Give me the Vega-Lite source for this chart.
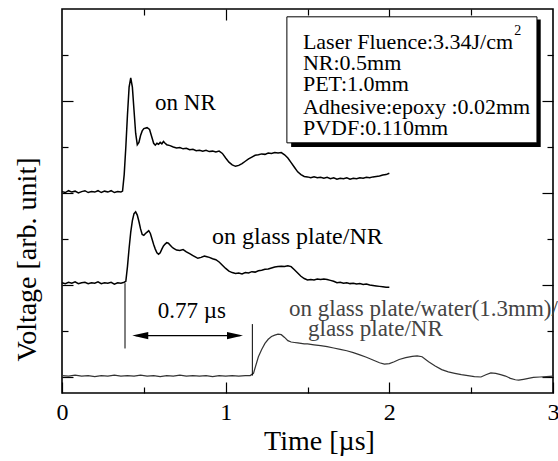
{
  "$schema": "https://vega.github.io/schema/vega-lite/v6.json",
  "autosize": {"type": "none"},
  "width": 491,
  "height": 384,
  "padding": {"left": 62, "top": 9, "right": 5, "bottom": 68},
  "config": {
    "view": {"stroke": "black", "strokeWidth": 1.6},
    "font": "Liberation Serif",
    "axis": {"domain": false, "grid": false, "tickColor": "black", "tickWidth": 1.2, "labelColor": "black", "titleColor": "black", "labelFont": "Liberation Serif", "titleFont": "Liberation Serif", "titleFontWeight": "normal"}
  },
  "datasets": {
    "nr": [
      {"t":0,"v":4.03},{"t":0.02,"v":4.01},{"t":0.04,"v":4.05},{"t":0.06,"v":4.02},{"t":0.08,"v":4.04},{"t":0.10,"v":4.00},{"t":0.12,"v":4.03},{"t":0.14,"v":4.05},{"t":0.16,"v":4.01},{"t":0.18,"v":4.03},{"t":0.20,"v":4.02},{"t":0.22,"v":4.05},{"t":0.24,"v":4.01},{"t":0.26,"v":4.04},{"t":0.28,"v":4.02},{"t":0.30,"v":4.05},{"t":0.32,"v":4.01},{"t":0.34,"v":4.03},{"t":0.36,"v":4.02},{"t":0.37,"v":4.04},
      {"t":0.38,"v":4.4},{"t":0.39,"v":5.0},{"t":0.40,"v":5.7},{"t":0.41,"v":6.3},{"t":0.42,"v":6.5},{"t":0.43,"v":6.3},{"t":0.44,"v":5.8},{"t":0.45,"v":5.3},{"t":0.46,"v":5.05},{"t":0.47,"v":5.1},{"t":0.48,"v":5.25},{"t":0.49,"v":5.35},{"t":0.50,"v":5.4},{"t":0.52,"v":5.42},{"t":0.535,"v":5.38},{"t":0.55,"v":5.2},{"t":0.56,"v":5.08},{"t":0.57,"v":5.04},{"t":0.58,"v":5.08},{"t":0.59,"v":5.06},{"t":0.60,"v":5.1},{"t":0.61,"v":5.07},{"t":0.62,"v":5.12},{"t":0.63,"v":5.08},{"t":0.64,"v":5.05},{"t":0.66,"v":5.03},{"t":0.68,"v":5.0},{"t":0.70,"v":4.98},{"t":0.72,"v":4.99},{"t":0.74,"v":4.96},{"t":0.76,"v":4.97},{"t":0.78,"v":4.94},{"t":0.80,"v":4.95},{"t":0.82,"v":4.92},{"t":0.84,"v":4.93},{"t":0.86,"v":4.91},{"t":0.88,"v":4.93},{"t":0.90,"v":4.90},{"t":0.92,"v":4.91},{"t":0.94,"v":4.89},{"t":0.96,"v":4.91},{"t":0.98,"v":4.86},{"t":1.00,"v":4.76},{"t":1.02,"v":4.67},{"t":1.04,"v":4.61},{"t":1.06,"v":4.58},{"t":1.08,"v":4.60},{"t":1.10,"v":4.64},{"t":1.12,"v":4.69},{"t":1.14,"v":4.74},{"t":1.16,"v":4.78},{"t":1.18,"v":4.82},{"t":1.20,"v":4.83},{"t":1.22,"v":4.85},{"t":1.24,"v":4.84},{"t":1.26,"v":4.87},{"t":1.28,"v":4.86},{"t":1.30,"v":4.88},{"t":1.32,"v":4.87},{"t":1.34,"v":4.88},{"t":1.36,"v":4.83},{"t":1.38,"v":4.76},{"t":1.40,"v":4.66},{"t":1.42,"v":4.56},{"t":1.44,"v":4.46},{"t":1.46,"v":4.40},{"t":1.48,"v":4.36},{"t":1.50,"v":4.35},{"t":1.52,"v":4.33},{"t":1.54,"v":4.35},{"t":1.56,"v":4.33},{"t":1.58,"v":4.34},{"t":1.60,"v":4.32},{"t":1.62,"v":4.34},{"t":1.64,"v":4.31},{"t":1.66,"v":4.33},{"t":1.68,"v":4.30},{"t":1.70,"v":4.32},{"t":1.72,"v":4.31},{"t":1.74,"v":4.33},{"t":1.76,"v":4.30},{"t":1.78,"v":4.32},{"t":1.80,"v":4.31},{"t":1.82,"v":4.33},{"t":1.84,"v":4.32},{"t":1.86,"v":4.34},{"t":1.88,"v":4.33},{"t":1.90,"v":4.35},{"t":1.92,"v":4.36},{"t":1.94,"v":4.37},{"t":1.96,"v":4.39},{"t":1.98,"v":4.40},{"t":2.00,"v":4.43}
    ],
    "glass": [
      {"t":0,"v":2.05},{"t":0.02,"v":2.03},{"t":0.04,"v":2.06},{"t":0.06,"v":2.04},{"t":0.08,"v":2.07},{"t":0.10,"v":2.03},{"t":0.12,"v":2.05},{"t":0.14,"v":2.06},{"t":0.16,"v":2.03},{"t":0.18,"v":2.05},{"t":0.20,"v":2.04},{"t":0.22,"v":2.07},{"t":0.24,"v":2.03},{"t":0.26,"v":2.05},{"t":0.28,"v":2.04},{"t":0.30,"v":2.06},{"t":0.32,"v":2.02},{"t":0.34,"v":2.05},{"t":0.36,"v":2.04},{"t":0.38,"v":2.06},{"t":0.39,"v":2.08},
      {"t":0.40,"v":2.4},{"t":0.41,"v":2.8},{"t":0.42,"v":3.15},{"t":0.43,"v":3.4},{"t":0.44,"v":3.55},{"t":0.45,"v":3.59},{"t":0.46,"v":3.52},{"t":0.47,"v":3.38},{"t":0.48,"v":3.22},{"t":0.49,"v":3.1},{"t":0.50,"v":3.08},{"t":0.51,"v":3.12},{"t":0.52,"v":3.15},{"t":0.53,"v":3.18},{"t":0.54,"v":3.12},{"t":0.55,"v":3.0},{"t":0.56,"v":2.88},{"t":0.57,"v":2.78},{"t":0.58,"v":2.70},{"t":0.59,"v":2.67},{"t":0.60,"v":2.70},{"t":0.61,"v":2.78},{"t":0.62,"v":2.85},{"t":0.63,"v":2.89},{"t":0.64,"v":2.92},{"t":0.65,"v":2.91},{"t":0.66,"v":2.87},{"t":0.67,"v":2.83},{"t":0.68,"v":2.80},{"t":0.69,"v":2.78},{"t":0.70,"v":2.76},{"t":0.72,"v":2.75},{"t":0.74,"v":2.77},{"t":0.76,"v":2.72},{"t":0.78,"v":2.68},{"t":0.80,"v":2.64},{"t":0.82,"v":2.60},{"t":0.83,"v":2.58},{"t":0.85,"v":2.60},{"t":0.87,"v":2.63},{"t":0.88,"v":2.62},{"t":0.90,"v":2.60},{"t":0.92,"v":2.57},{"t":0.94,"v":2.55},{"t":0.96,"v":2.50},{"t":0.98,"v":2.43},{"t":1.00,"v":2.36},{"t":1.02,"v":2.30},{"t":1.04,"v":2.27},{"t":1.06,"v":2.25},{"t":1.08,"v":2.26},{"t":1.10,"v":2.24},{"t":1.12,"v":2.27},{"t":1.14,"v":2.26},{"t":1.16,"v":2.29},{"t":1.18,"v":2.28},{"t":1.20,"v":2.31},{"t":1.22,"v":2.32},{"t":1.24,"v":2.34},{"t":1.26,"v":2.35},{"t":1.28,"v":2.37},{"t":1.30,"v":2.39},{"t":1.32,"v":2.40},{"t":1.34,"v":2.41},{"t":1.36,"v":2.40},{"t":1.38,"v":2.42},{"t":1.40,"v":2.40},{"t":1.42,"v":2.33},{"t":1.44,"v":2.26},{"t":1.46,"v":2.19},{"t":1.48,"v":2.14},{"t":1.50,"v":2.11},{"t":1.52,"v":2.12},{"t":1.54,"v":2.11},{"t":1.56,"v":2.13},{"t":1.58,"v":2.12},{"t":1.60,"v":2.13},{"t":1.62,"v":2.12},{"t":1.64,"v":2.10},{"t":1.66,"v":2.08},{"t":1.68,"v":2.05},{"t":1.70,"v":2.06},{"t":1.72,"v":2.04},{"t":1.74,"v":2.05},{"t":1.76,"v":2.03},{"t":1.78,"v":2.04},{"t":1.80,"v":2.02},{"t":1.82,"v":2.03},{"t":1.84,"v":2.01},{"t":1.86,"v":2.02},{"t":1.88,"v":2.00},{"t":1.90,"v":1.99},{"t":1.92,"v":1.98},{"t":1.94,"v":1.97},{"t":1.96,"v":1.96},{"t":1.98,"v":1.95},{"t":2.00,"v":1.95}
    ],
    "water": [
      {"t":0,"v":0.03},{"t":0.04,"v":0.02},{"t":0.08,"v":0.04},{"t":0.12,"v":0.02},{"t":0.16,"v":0.03},{"t":0.20,"v":0.01},{"t":0.24,"v":0.03},{"t":0.28,"v":0.02},{"t":0.32,"v":0.04},{"t":0.36,"v":0.02},{"t":0.40,"v":0.03},{"t":0.44,"v":0.02},{"t":0.48,"v":0.04},{"t":0.52,"v":0.02},{"t":0.56,"v":0.03},{"t":0.60,"v":0.01},{"t":0.64,"v":0.03},{"t":0.68,"v":0.02},{"t":0.72,"v":0.04},{"t":0.76,"v":0.02},{"t":0.80,"v":0.03},{"t":0.84,"v":0.02},{"t":0.88,"v":0.03},{"t":0.92,"v":0.01},{"t":0.96,"v":0.03},{"t":1.00,"v":0.02},{"t":1.04,"v":0.03},{"t":1.08,"v":0.02},{"t":1.12,"v":0.03},{"t":1.15,"v":0.03},
      {"t":1.17,"v":0.08},{"t":1.18,"v":0.2},{"t":1.19,"v":0.32},{"t":1.20,"v":0.44},{"t":1.22,"v":0.6},{"t":1.24,"v":0.73},{"t":1.26,"v":0.82},{"t":1.28,"v":0.88},{"t":1.30,"v":0.91},{"t":1.32,"v":0.93},{"t":1.34,"v":0.92},{"t":1.36,"v":0.86},{"t":1.38,"v":0.79},{"t":1.40,"v":0.76},{"t":1.42,"v":0.75},{"t":1.44,"v":0.74},{"t":1.46,"v":0.73},{"t":1.48,"v":0.72},{"t":1.50,"v":0.72},{"t":1.52,"v":0.71},{"t":1.54,"v":0.70},{"t":1.58,"v":0.68},{"t":1.62,"v":0.66},{"t":1.66,"v":0.63},{"t":1.70,"v":0.60},{"t":1.74,"v":0.57},{"t":1.78,"v":0.53},{"t":1.82,"v":0.48},{"t":1.86,"v":0.43},{"t":1.90,"v":0.37},{"t":1.94,"v":0.31},{"t":1.97,"v":0.28},{"t":2.00,"v":0.29},{"t":2.03,"v":0.33},{"t":2.06,"v":0.38},{"t":2.10,"v":0.42},{"t":2.14,"v":0.45},{"t":2.17,"v":0.46},{"t":2.20,"v":0.44},{"t":2.24,"v":0.33},{"t":2.28,"v":0.24},{"t":2.32,"v":0.16},{"t":2.36,"v":0.11},{"t":2.40,"v":0.08},{"t":2.44,"v":0.05},{"t":2.48,"v":0.03},{"t":2.52,"v":0.01},{"t":2.56,"v":0.00},{"t":2.59,"v":0.05},{"t":2.62,"v":0.09},{"t":2.65,"v":0.08},{"t":2.68,"v":0.05},{"t":2.71,"v":0.02},{"t":2.74,"v":-0.03},{"t":2.77,"v":-0.06},{"t":2.79,"v":-0.07},{"t":2.82,"v":-0.05},{"t":2.85,"v":-0.03},{"t":2.88,"v":-0.01},{"t":2.92,"v":0.00},{"t":2.96,"v":0.01},{"t":3.00,"v":0.02}
    ]
  },
  "layer": [
    {
      "data": {"values": [{"x1": 1.40, "x2": 2.925, "y1": 7.77, "y2": 5.0}]},
      "mark": {"type": "rect", "fill": "black"},
      "encoding": {
        "x": {"field": "x1", "type": "quantitative", "scale": {"domain": [0, 3], "nice": false, "zero": false}, "axis": null},
        "x2": {"field": "x2"},
        "y": {"field": "y1", "type": "quantitative", "scale": {"domain": [-0.348, 8], "nice": false, "zero": false}, "axis": null},
        "y2": {"field": "y2"}
      }
    },
    {
      "data": {"values": [{"x1": 1.374, "x2": 2.902, "y1": 7.83, "y2": 5.09}]},
      "mark": {"type": "rect", "fill": "white", "stroke": "black", "strokeWidth": 1},
      "encoding": {
        "x": {"field": "x1", "type": "quantitative", "scale": {"domain": [0, 3], "nice": false, "zero": false}, "axis": null},
        "x2": {"field": "x2"},
        "y": {"field": "y1", "type": "quantitative", "scale": {"domain": [-0.348, 8], "nice": false, "zero": false}, "axis": null},
        "y2": {"field": "y2"}
      }
    },
    {
      "data": {"values": [
        {"x": 1.472, "y": 7.28, "s": "Laser Fluence:3.34J/cm"},
        {"x": 1.472, "y": 6.83, "s": "NR:0.5mm"},
        {"x": 1.472, "y": 6.36, "s": "PET:1.0mm"},
        {"x": 1.472, "y": 5.88, "s": "Adhesive:epoxy :0.02mm"},
        {"x": 1.472, "y": 5.42, "s": "PVDF:0.110mm"}
      ]},
      "mark": {"type": "text", "align": "left", "baseline": "middle", "fontSize": 22, "font": "Liberation Serif", "color": "black"},
      "encoding": {
        "x": {"field": "x", "type": "quantitative", "scale": {"domain": [0, 3], "nice": false, "zero": false}, "axis": null},
        "y": {"field": "y", "type": "quantitative", "scale": {"domain": [-0.348, 8], "nice": false, "zero": false}, "axis": null},
        "text": {"field": "s"}
      }
    },
    {
      "data": {"values": [{"x": 2.785, "y": 7.53, "s": "2"}]},
      "mark": {"type": "text", "align": "center", "baseline": "middle", "fontSize": 14, "font": "Liberation Serif", "color": "black"},
      "encoding": {
        "x": {"field": "x", "type": "quantitative", "scale": {"domain": [0, 3], "nice": false, "zero": false}, "axis": null},
        "y": {"field": "y", "type": "quantitative", "scale": {"domain": [-0.348, 8], "nice": false, "zero": false}, "axis": null},
        "text": {"field": "s"}
      }
    },
    {
      "data": {"name": "nr"},
      "mark": {"type": "line", "color": "black", "strokeWidth": 1.5},
      "encoding": {
        "x": {"field": "t", "type": "quantitative", "scale": {"domain": [0, 3], "nice": false, "zero": false},
              "axis": {"orient": "bottom", "values": [0, 1, 2, 3], "tickSize": -11, "labelPadding": 18, "labelFontSize": 24, "labelFlush": false, "title": "Time [µs]", "titleFontSize": 28, "titlePadding": 3, "titleX": 257}},
        "y": {"field": "v", "type": "quantitative", "scale": {"domain": [-0.348, 8], "nice": false, "zero": false},
              "axis": {"orient": "left", "values": [0, 2, 4, 6], "tickSize": -11, "labels": false, "title": "Voltage [arb. unit]", "titleFontSize": 28, "titlePadding": 20, "titleY": 250}}
      }
    },
    {
      "data": {"name": "glass"},
      "mark": {"type": "line", "color": "black", "strokeWidth": 1.5},
      "encoding": {
        "x": {"field": "t", "type": "quantitative", "scale": {"domain": [0, 3], "nice": false, "zero": false},
              "axis": {"orient": "bottom", "values": [0.5, 1.5, 2.5], "tickSize": -6, "labels": false, "title": null}},
        "y": {"field": "v", "type": "quantitative", "scale": {"domain": [-0.348, 8], "nice": false, "zero": false},
              "axis": {"orient": "left", "values": [1, 3, 5, 7], "tickSize": -6, "labels": false, "title": null}}
      }
    },
    {
      "data": {"name": "water"},
      "mark": {"type": "line", "color": "#333333", "strokeWidth": 1.2},
      "encoding": {
        "x": {"field": "t", "type": "quantitative", "scale": {"domain": [0, 3], "nice": false, "zero": false},
              "axis": {"orient": "top", "values": [1, 2], "tickSize": -11, "labels": false, "title": null}},
        "y": {"field": "v", "type": "quantitative", "scale": {"domain": [-0.348, 8], "nice": false, "zero": false},
              "axis": {"orient": "right", "values": [0, 2, 4, 6], "tickSize": -11, "labels": false, "title": null}}
      }
    },
    {
      "data": {"values": [{"t": 0.385, "y1": 2.04, "y2": 0.62}, {"t": 1.163, "y1": 1.15, "y2": 0.03}]},
      "mark": {"type": "rule", "color": "black", "strokeWidth": 1},
      "encoding": {
        "x": {"field": "t", "type": "quantitative", "scale": {"domain": [0, 3], "nice": false, "zero": false},
              "axis": {"orient": "top", "values": [0.5, 1.5, 2.5], "tickSize": -6, "labels": false, "title": null}},
        "y": {"field": "y1", "type": "quantitative", "scale": {"domain": [-0.348, 8], "nice": false, "zero": false},
              "axis": {"orient": "right", "values": [1, 3, 5, 7], "tickSize": -6, "labels": false, "title": null}},
        "y2": {"field": "y2"}
      }
    },
    {
      "data": {"values": [{"x1": 0.45, "x2": 1.09, "y": 0.9}]},
      "mark": {"type": "rule", "color": "black", "strokeWidth": 1.3},
      "encoding": {
        "x": {"field": "x1", "type": "quantitative", "scale": {"domain": [0, 3], "nice": false, "zero": false}, "axis": null},
        "x2": {"field": "x2"},
        "y": {"field": "y", "type": "quantitative", "scale": {"domain": [-0.348, 8], "nice": false, "zero": false}, "axis": null}
      }
    },
    {
      "data": {"values": [{"x": 0.478, "y": 0.9, "dir": "L"}, {"x": 1.057, "y": 0.9, "dir": "R"}]},
      "mark": {"type": "point", "filled": true, "color": "black", "opacity": 1, "size": 256},
      "encoding": {
        "x": {"field": "x", "type": "quantitative", "scale": {"domain": [0, 3], "nice": false, "zero": false}, "axis": null},
        "y": {"field": "y", "type": "quantitative", "scale": {"domain": [-0.348, 8], "nice": false, "zero": false}, "axis": null},
        "shape": {"field": "dir", "type": "nominal", "scale": {"domain": ["L", "R"], "range": ["M-1,0L1,-0.45L1,0.45Z", "M1,0L-1,-0.45L-1,0.45Z"]}, "legend": null}
      }
    },
    {
      "data": {"values": [
        {"x": 0.754, "y": 5.96, "s": "on NR"},
        {"x": 0.794, "y": 1.43, "s": "0.77 µs"}
      ]},
      "mark": {"type": "text", "align": "center", "baseline": "middle", "fontSize": 23, "font": "Liberation Serif", "color": "black"},
      "encoding": {
        "x": {"field": "x", "type": "quantitative", "scale": {"domain": [0, 3], "nice": false, "zero": false}, "axis": null},
        "y": {"field": "y", "type": "quantitative", "scale": {"domain": [-0.348, 8], "nice": false, "zero": false}, "axis": null},
        "text": {"field": "s"}
      }
    },
    {
      "data": {"values": [
        {"x": 0.917, "y": 3.04, "s": "on glass plate/NR"}
      ]},
      "mark": {"type": "text", "align": "left", "baseline": "middle", "fontSize": 24, "font": "Liberation Serif", "color": "black"},
      "encoding": {
        "x": {"field": "x", "type": "quantitative", "scale": {"domain": [0, 3], "nice": false, "zero": false}, "axis": null},
        "y": {"field": "y", "type": "quantitative", "scale": {"domain": [-0.348, 8], "nice": false, "zero": false}, "axis": null},
        "text": {"field": "s"}
      }
    },
    {
      "data": {"values": [
        {"x": 1.387, "y": 1.48, "s": "on glass plate/water(1.3mm)/"},
        {"x": 1.503, "y": 1.04, "s": "glass plate/NR"}
      ]},
      "mark": {"type": "text", "align": "left", "baseline": "middle", "fontSize": 23, "font": "Liberation Serif", "color": "#444444"},
      "encoding": {
        "x": {"field": "x", "type": "quantitative", "scale": {"domain": [0, 3], "nice": false, "zero": false}, "axis": null},
        "y": {"field": "y", "type": "quantitative", "scale": {"domain": [-0.348, 8], "nice": false, "zero": false}, "axis": null},
        "text": {"field": "s"}
      }
    }
  ],
  "resolve": {"axis": {"x": "independent", "y": "independent"}}
}
